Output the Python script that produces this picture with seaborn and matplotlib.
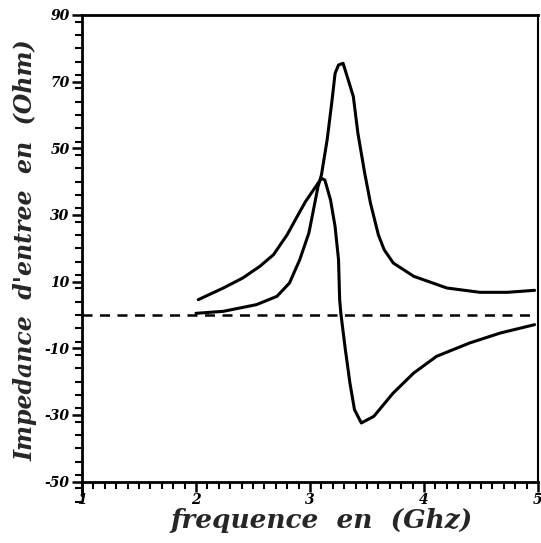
#!/usr/bin/env python3

import pandas as pd
import seaborn as sns
from matplotlib import pyplot as plt
from matplotlib.ticker import MultipleLocator


# Curve with the tall resonance peak (starts on the zero line)
freq_peak = [2.00, 2.24, 2.53, 2.71, 2.82, 2.91, 2.99, 3.03, 3.07, 3.10,
             3.15, 3.19, 3.22, 3.25, 3.29, 3.34, 3.38, 3.42, 3.48, 3.53,
             3.60, 3.65, 3.73, 3.91, 4.20, 4.49, 4.73, 4.97]
imp_peak = [0.5, 1.1, 3.1, 5.6, 9.6, 16.6, 24.6, 31.5, 38.5, 42.0,
            52.5, 63.5, 72.5, 75.0, 75.5, 70.0, 65.5, 54.5, 42.5, 33.6,
            24.0, 19.6, 15.6, 11.6, 8.1, 6.8, 6.8, 7.4]

# Curve that crosses zero and dips negative
freq_swing = [2.02, 2.24, 2.41, 2.56, 2.68, 2.80, 2.88, 2.96, 3.03, 3.10,
              3.13, 3.18, 3.22, 3.25, 3.26, 3.27, 3.31, 3.35, 3.39, 3.45,
              3.56, 3.73, 3.91, 4.11, 4.40, 4.67, 4.97]
imp_swing = [4.6, 8.1, 11.1, 14.6, 18.1, 24.1, 29.1, 34.0, 37.5, 41.0,
             40.5, 34.5, 26.5, 16.6, 4.6, 0.6, -10.4, -20.4, -28.4, -32.4,
             -30.4, -23.4, -17.4, -12.4, -8.4, -5.4, -2.9]

y_ticks = [-50, -30, -10, 10, 30, 50, 70, 90]
x_ticks = [1, 2, 3, 4, 5]


def main():

    sns.set_style("ticks")
    plt.rcParams["font.family"] = ["DejaVu Serif"]
    plt.rcParams["axes.unicode_minus"] = False

    df_peak = pd.DataFrame({"f": freq_peak, "z": imp_peak})
    df_swing = pd.DataFrame({"f": freq_swing, "z": imp_swing})

    fig = plt.figure(figsize=(5.41, 5.43), dpi=100)
    ax = fig.add_axes([0.1516, 0.07, 0.8429, 0.9024])

    sns.lineplot(data=df_peak, x="f", y="z", color="black", lw=2.2, ax=ax)
    sns.lineplot(data=df_swing, x="f", y="z", color="black", lw=2.2, ax=ax)

    # Zero reference line
    ax.axhline(0, color="black", lw=1.8, ls=(0, (4, 3)))

    ax.set_xlim(1, 5)
    ax.set_ylim(-57, 90)

    # Frame: bottom axis sits at -50, left axis runs a bit below it
    ax.spines["bottom"].set_position(("data", -50))
    for side in ["left", "bottom", "top"]:
        ax.spines[side].set_linewidth(2)
        ax.spines[side].set_color("black")
    ax.spines["right"].set_linewidth(1.5)
    ax.spines["right"].set_color("black")
    ax.spines["right"].set_bounds(-50, 90)
    ax.spines["left"].set_bounds(-54, 90)

    ax.set_xticks(x_ticks)
    ax.set_yticks(y_ticks)
    ax.xaxis.set_minor_locator(MultipleLocator(0.1))
    ax.yaxis.set_minor_locator(MultipleLocator(4))
    ax.tick_params(which="major", direction="out", length=7, width=1.8,
                   labelsize=10, pad=2, colors="black")
    ax.tick_params(axis="x", which="major", pad=1)
    ax.tick_params(which="minor", direction="out", length=5, width=1.5,
                   colors="black")
    for lbl in ax.get_xticklabels() + ax.get_yticklabels():
        lbl.set_fontweight("bold")
        lbl.set_fontstyle("italic")

    ax.set_xlabel("frequence  en  (Ghz)", fontsize=19, fontweight="bold",
                  fontstyle="italic")
    ax.xaxis.set_label_coords(0.525, -0.006)
    ax.set_ylabel("Impedance  d'entree  en  (Ohm)", fontsize=17,
                  fontweight="bold", fontstyle="italic")
    ax.yaxis.set_label_coords(-0.098, 0.52)

    ax.grid(False)

    fig.savefig("out.png", dpi=100)
    plt.close()

    return 0


if __name__ == "__main__":
    main()
